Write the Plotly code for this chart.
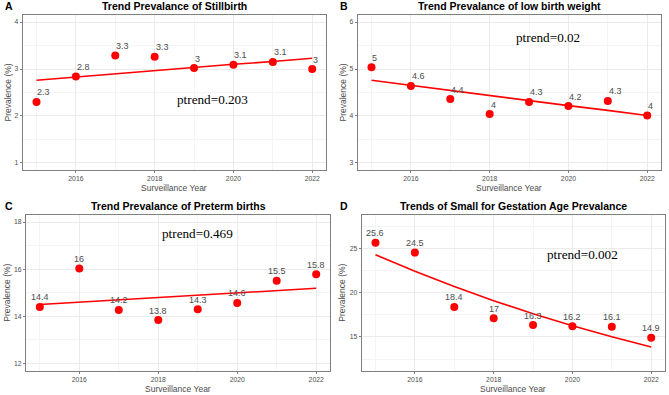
import plotly.graph_objects as go

years = [2015, 2016, 2017, 2018, 2019, 2020, 2021, 2022]

stillbirth = [2.30, 2.84, 3.29, 3.26, 3.02, 3.09, 3.15, 3.00]
stillbirth_labels = ["2.3", "2.8", "3.3", "3.3", "3", "3.1", "3.1", "3"]
stillbirth_fit = [2.76, 2.83, 2.89, 2.96, 3.03, 3.10, 3.16, 3.23]

lbw = [5.04, 4.64, 4.36, 4.04, 4.30, 4.21, 4.32, 4.01]
lbw_labels = ["5", "4.6", "4.4", "4", "4.3", "4.2", "4.3", "4"]
lbw_fit = [4.76, 4.65, 4.55, 4.44, 4.33, 4.22, 4.12, 4.01]

preterm = [14.40, 16.03, 14.27, 13.84, 14.30, 14.57, 15.51, 15.78]
preterm_labels = ["14.4", "16", "14.2", "13.8", "14.3", "14.6", "15.5", "15.8"]
preterm_fit = [14.50, 14.60, 14.70, 14.80, 14.89, 14.99, 15.09, 15.19]

sga = [25.65, 24.55, 18.40, 17.10, 16.35, 16.20, 16.15, 14.90]
sga_labels = ["25.6", "24.5", "18.4", "17", "16.3", "16.2", "16.1", "14.9"]
sga_fit = [24.30, 22.43, 20.70, 19.10, 17.63, 16.27, 15.02, 13.87]

titles = ["Trend Prevalance of Stillbirth", "Trend Prevalance of low birth weight",
          "Trend Prevalance of Preterm births", "Trends of Small for Gestation Age Prevalance"]
letters = ["A", "B", "C", "D"]
ptrend_texts = ["ptrend=0.203", "ptrend=0.02", "ptrend=0.469", "ptrend=0.002"]
ptrend_pos = [(2019.46, 2.36), (2019.47, 5.67), (2019.0, 17.5), (2020.25, 24.3)]
y_ticks = [[1, 2, 3, 4], [3, 4, 5, 6], [12, 14, 16, 18], [15, 20, 25]]

W, H = 669, 395
panels = [
    dict(vals=stillbirth, labels=stillbirth_labels, fit=stillbirth_fit,
         xd=[22.7, 326], yd=[15, 170], yr=[0.85, 4.15], ydt=1, ymin=0.5, t0=1, anchor="left"),
    dict(vals=lbw, labels=lbw_labels, fit=lbw_fit,
         xd=[357.7, 661], yd=[15, 170], yr=[2.85, 6.15], ydt=1, ymin=0.5, t0=3, anchor="left"),
    dict(vals=preterm, labels=preterm_labels, fit=preterm_fit,
         xd=[26, 330], yd=[215, 370.5], yr=[11.7, 18.3], ydt=2, ymin=1, t0=12, anchor="center"),
    dict(vals=sga, labels=sga_labels, fit=sga_fit,
         xd=[361.7, 665], yd=[215, 370.5], yr=[11.2, 28.8], ydt=5, ymin=2.5, t0=15, anchor="center"),
]

RED = "#FF0000"
GRID = "#EBEBEB"
MINOR = "#F4F4F4"
FRAME = "#808080"
TXT = "#4D4D4D"

fig = go.Figure()
annotations = []
layout = {}
for i, p in enumerate(panels):
    n = "" if i == 0 else str(i + 1)
    xa, ya = "x" + n, "y" + n
    fig.add_trace(go.Scatter(x=years, y=p["fit"], mode="lines", line=dict(color=RED, width=1.6),
                             xaxis=xa, yaxis=ya, showlegend=False, hoverinfo="skip"))
    fig.add_trace(go.Scatter(x=years, y=p["vals"], mode="markers",
                             marker=dict(color=RED, size=8, line=dict(width=0)),
                             xaxis=xa, yaxis=ya, showlegend=False))
    for xv, yv, lb in zip(years, p["vals"], p["labels"]):
        annotations.append(dict(x=xv, y=yv, xref=xa, yref=ya, text=lb, showarrow=False,
                                font=dict(size=9, color=TXT, family="Liberation Sans, Arial"),
                                xanchor=p["anchor"], yanchor="middle",
                                xshift=-1 if p["anchor"] == "left" else 0, yshift=9.5))
    px_, py_ = ptrend_pos[i]
    annotations.append(dict(x=px_, y=py_, xref=xa, yref=ya, text=ptrend_texts[i], showarrow=False,
                            font=dict(size=13.2, color="black", family="Liberation Serif, Times New Roman"),
                            xanchor="center", yanchor="middle"))
    x0, x1 = p["xd"]
    ytop, ybot = p["yd"]
    layout["xaxis" + n] = dict(
        domain=[x0 / W, x1 / W], anchor=ya, range=[2014.65, 2022.35],
        tickmode="linear", tick0=2016, dtick=2, showgrid=True, gridcolor=GRID, gridwidth=1,
        minor=dict(showgrid=True, gridcolor=MINOR, tick0=2015, dtick=1, ticks=""),
        showline=True, mirror=True, linecolor=FRAME, linewidth=1,
        ticks="outside", ticklen=2, tickcolor=FRAME,
        tickfont=dict(size=6.8, color=TXT, family="Liberation Sans, Arial"), zeroline=False)
    layout["yaxis" + n] = dict(
        domain=[1 - ybot / H, 1 - ytop / H], anchor=xa, range=p["yr"],
        tickmode="array", tickvals=y_ticks[i], showgrid=True, gridcolor=GRID, gridwidth=1,
        minor=dict(showgrid=True, gridcolor=MINOR, tick0=p["t0"] - p["ymin"], dtick=p["ydt"], ticks=""),
        showline=True, mirror=True, linecolor=FRAME, linewidth=1,
        ticks="outside", ticklen=2, tickcolor=FRAME,
        tickfont=dict(size=6.8, color=TXT, family="Liberation Sans, Arial"), zeroline=False)
    # titles
    cx = (x0 + x1) / 2 / W
    ty = 5.7 if i < 2 else 205.7
    annotations.append(dict(x=cx, y=1 - ty / H, xref="paper", yref="paper", text="<b>%s</b>" % titles[i],
                            showarrow=False, font=dict(size=10.5, color="black", family="Liberation Sans, Arial"),
                            xanchor="center", yanchor="middle"))
    lx = 3 if i % 2 == 0 else 338
    annotations.append(dict(x=lx / W, y=1 - ty / H, xref="paper", yref="paper", text="<b>%s</b>" % letters[i],
                            showarrow=False, font=dict(size=10.5, color="black", family="Liberation Sans, Arial"),
                            xanchor="left", yanchor="middle"))
    # axis titles
    axy = 188 if i < 2 else 388.5
    annotations.append(dict(x=cx, y=1 - axy / H, xref="paper", yref="paper", text="Surveillance Year",
                            showarrow=False, font=dict(size=8.5, color=TXT, family="Liberation Sans, Arial"),
                            xanchor="center", yanchor="middle"))
    yx = 7 if i % 2 == 0 else 342
    annotations.append(dict(x=yx / W, y=1 - (ytop + ybot) / 2 / H, xref="paper", yref="paper",
                            text="Prevalence (%)", textangle=-90,
                            showarrow=False, font=dict(size=8.5, color=TXT, family="Liberation Sans, Arial"),
                            xanchor="center", yanchor="middle"))

fig.update_layout(width=W, height=H, margin=dict(l=0, r=0, t=0, b=0),
                  paper_bgcolor="white", plot_bgcolor="white", annotations=annotations, **layout)
fig.write_html("out.html", config={"displayModeBar": False},
               post_script="document.body.style.margin='0';document.body.style.overflow='hidden';")
